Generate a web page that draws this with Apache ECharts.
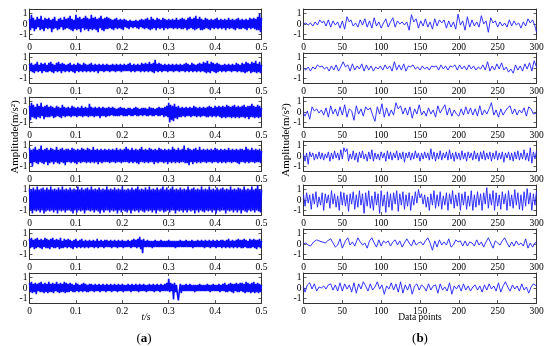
<!DOCTYPE html>
<html><head><meta charset="utf-8">
<script src="https://cdn.jsdelivr.net/npm/echarts@6/dist/echarts.min.js"></script>
<style>html,body{margin:0;padding:0;background:#fff}#c{width:550px;height:346px}</style>
</head><body><div id="c"></div>
<script>
// Tick labels
var xTicksA = [0, 0.1, 0.2, 0.3, 0.4, 0.5];
var xTicksB = [0, 50, 100, 150, 200, 250, 300];
var yTicks = [-1, 0, 1];
var tMax = 0.5, nMax = 300;

// (a) time signals, 0 .. 0.5 s, evenly sampled (values in m/s^2)
var sigA1 = [.5,-.6,.9,-.4,.6,-.7,.4,-.5,.7,-.3,.5,-.6,.8,-.5,.4,-.7,.6,-.4,.5,-.5,
.6,-.4,.4,-.8,.5,-.5,.7,-.4,.3,-.6,.5,-.5,.6,-.3,.4,-.6,.7,-.5,.5,-.4,
.6,-.5,.8,-.6,.5,-.7,.4,-.5,.9,-.6,.6,-.5,.7,-.8,.5,-.4,.6,-.6,.8,-.5,
.6,-.7,.5,-.5,.9,-.6,.6,-.5,.7,-.6,.5,-.8,.6,-.4,.8,-.6,.5,-.7,.6,-.5,
.7,-.5,.6,-.4,.5,-.5,.4,-.6,.5,-.4,.6,-.5,.4,-.4,.5,-.5,.4,-.6,.5,-.3,
.4,-.4,.3,-.5,.4,-.3,.3,-.4,.3,-.3,.4,-.4,.3,-.5,.4,-.3,.5,-.4,.4,-.5,
.5,-.4,.6,-.5,.4,-.6,.7,-.5,.5,-.4,.4,-.6,.6,-.4,.5,-.5,.4,-.4,.6,-.6,
.5,-.4,.4,-.5,.5,-.4,.4,-.4,.5,-.5,.4,-.4,.6,-.5,.4,-.4,.5,-.5,.6,-.5,
.5,-.4,.4,-.6,.6,-.5,.7,-.4,.5,-.5,.6,-.6,.8,-.5,.5,-.4,.7,-.6,.5,-.6,
.4,-.5,.6,-.4,.5,-.5,.4,-.6,.5,-.4,.4,-.5,.5,-.4,.6,-.5,.4,-.4,.5,-.5,
.4,-.4,.5,-.6,.4,-.4,.6,-.5,.4,-.4,.5,-.5,.4,-.6,.5,-.4,.6,-.5,.4,-.5,
.5,-.4,.4,-.5,.5,-.6,.4,-.4,.6,-.5,.5,-.4,.6,-.5,.5,-.6,.7,-.6,1,-.8,.6];
var sigA2 = [.4,-.3,.5,-.4,.3,-.5,.4,-.3,.6,-.4,.3,-.3,.5,-.5,.4,-.3,.5,-.4,.3,-.4,
.5,-.3,.6,-.4,.4,-.5,.3,-.3,.5,-.4,.6,-.3,.4,-.5,.5,-.3,.4,-.4,.3,-.3,
.4,-.4,.5,-.3,.3,-.4,.4,-.5,.3,-.3,.5,-.4,.4,-.3,.3,-.4,.5,-.3,.4,-.4,
.3,-.3,.4,-.4,.5,-.3,.3,-.4,.4,-.3,.3,-.5,.4,-.3,.3,-.3,.4,-.4,.3,-.3,
.4,-.3,.3,-.4,.3,-.3,.4,-.3,.3,-.4,.4,-.3,.3,-.3,.4,-.4,.3,-.3,.4,-.3,
.3,-.3,.4,-.3,.5,-.4,.3,-.3,.4,-.4,.3,-.3,.4,-.3,.3,-.4,.5,-.3,.4,-.4,
.5,-.3,.4,-.4,.6,-.3,.4,-.4,.5,-.5,.8,-.3,.4,-.4,.5,-.3,.4,-.4,.3,-.3,
.4,-.3,.3,-.4,.4,-.3,.3,-.3,.4,-.4,.3,-.3,.4,-.3,.3,-.4,.4,-.3,.3,-.3,
.4,-.4,.5,-.3,.4,-.4,.3,-.3,.5,-.4,.4,-.3,.3,-.4,.4,-.3,.5,-.4,.4,-.3,
.6,-.4,.5,-.5,.7,-.4,.4,-.5,.6,-.3,.5,-.4,.4,-.5,.5,-.4,.4,-.3,.3,-.4,
.3,-.3,.4,-.4,.3,-.3,.4,-.3,.3,-.4,.4,-.3,.3,-.3,.5,-.4,.4,-.3,.3,-.4,
.5,-.4,.4,-.5,.6,-.4,.5,-.3,.4,-.5,.6,-.4,.5,-.4,.7,-.5,.4,-.4,.6,-.5,.3];
var sigA3 = [.6,-.8,.9,-.5,.7,-.6,.5,-.7,.8,-.5,.6,-.6,.9,-.4,.5,-.7,.6,-.5,.7,-.5,
.5,-.5,.6,-.4,.5,-.6,.4,-.5,.6,-.4,.5,-.5,.4,-.6,.7,-.4,.5,-.5,.4,-.4,
.5,-.4,.4,-.5,.6,-.4,.5,-.4,.4,-.5,.5,-.4,.4,-.4,.6,-.5,.4,-.4,.5,-.4,
.4,-.5,.8,-.4,.5,-.4,.4,-.5,.5,-.4,.4,-.4,.5,-.6,.4,-.4,.5,-.4,.4,-.5,
.4,-.4,.5,-.4,.4,-.3,.5,-.4,.4,-.4,.3,-.4,.4,-.4,.5,-.3,.4,-.4,.4,-.4,
.3,-.4,.4,-.3,.4,-.4,.3,-.4,.4,-.3,.5,-.4,.4,-.4,.3,-.3,.4,-.4,.4,-.3,
.4,-.4,.3,-.4,.5,-.3,.4,-.4,.4,-.4,.3,-.3,.4,-.4,.5,-.4,.4,-.3,.4,-.5,
.5,-.4,.6,-.5,.9,-1,.7,-.8,.6,-.9,.8,-.6,.5,-.7,.6,-.5,.4,-.5,.5,-.4,
.4,-.5,.5,-.4,.4,-.4,.5,-.5,.4,-.4,.6,-.4,.5,-.5,.4,-.4,.5,-.5,.4,-.4,
.5,-.4,.4,-.5,.5,-.5,.6,-.4,.5,-.5,.4,-.4,.6,-.5,.5,-.4,.6,-.5,.5,-.6,
.6,-.5,.5,-.6,.7,-.5,.6,-.5,.5,-.6,.6,-.5,.7,-.6,.5,-.5,.6,-.6,.5,-.5,
.6,-.5,.7,-.6,.5,-.5,.6,-.7,.6,-.5,.8,-.5,.6,-.6,.5,-.5,.7,-.6,.6,-.5,.4];
var sigA4 = [.8,-.7,.6,-1,.7,-.6,.9,-.7,.6,-.8,.7,-.6,1,-.7,.6,-.8,.7,-.6,.8,-.9,
.6,-.7,.8,-.6,.7,-.8,.6,-.6,.9,-.7,.6,-.8,.7,-.6,.8,-.7,.6,-.9,.7,-.6,
.7,-.6,.6,-.7,.8,-.6,.7,-.7,.6,-.8,.7,-.6,.6,-.7,.8,-.6,.7,-.6,.6,-.7,
.8,-.6,.7,-.7,.6,-.6,.9,-.7,.6,-.6,.7,-.8,.6,-.6,.7,-.7,.6,-.6,.7,-.6,
.6,-.6,.7,-.7,.6,-.6,.7,-.6,.6,-.7,.8,-.6,.6,-.6,.7,-.7,.6,-.6,.7,-.6,
.9,-.6,.7,-.7,.6,-.6,.8,-.7,.6,-.6,.7,-.7,.6,-.8,.7,-.6,.9,-.6,.6,-.7,
.7,-.6,.6,-.7,.8,-.6,.7,-.6,.6,-.8,.7,-.6,.6,-.7,.8,-.6,.7,-.6,.6,-.7,
.7,-.6,.6,-.8,.7,-.6,.6,-.7,.9,-.6,.7,-.7,.6,-.6,.8,-.7,.6,-.6,.7,-.6,
1,-.7,.6,-.7,.8,-.9,.7,-.6,.6,-.8,.7,-.6,.8,-.7,.6,-.6,.9,-.7,.6,-.6,
.7,-.6,.6,-.7,.7,-.6,.6,-.6,.7,-.7,.6,-.6,.8,-.6,.7,-.7,.6,-.6,.7,-.7,
.6,-.6,.7,-.7,.6,-.6,.8,-.6,.6,-.7,.7,-.6,.6,-.6,.7,-.7,.6,-.8,.7,-.6,
.7,-.6,.6,-.7,.9,-.6,.7,-.7,.6,-.6,.8,-.6,.6,-.7,.7,-.6,.6,-.6,.7,-.7,.5];
var sigA5 = [1.1,-1,1,-1.3,1.2,-1,1,-1.1,1.3,-1,1,-1.2,1.1,-1,1.2,-1.3,1,-1.1,1.2,-1,
1,-1.1,1.3,-1,1,-1.2,1.1,-1,1,-1.3,1.2,-1,1,-1.1,1.3,-1,1,-1.2,1.1,-1,
1,-1,1.2,-1.1,1,-1.3,1.1,-1,1,-1.2,1.3,-1,1,-1.1,1.2,-1,1,-1.3,1.1,-1,
1.2,-1,1,-1.1,1.3,-1,1,-1.2,1.1,-1,1,-1.1,1.2,-1.3,1,-1,1.1,-1.2,1,-1,
1.3,-1,1,-1.2,1.1,-1,1,-1.1,1.2,-1,1,-1.3,1.1,-1,1,-1.2,1.3,-1,1,-1.1,
1,-1.2,1.1,-1,1,-1.3,1.2,-1,1,-1.1,1.1,-1,1.3,-1.2,1,-1,1.1,-1.1,1,-1.2,
1.2,-1,1,-1.1,1.3,-1,1,-1.2,1.1,-1,1,-1.3,1.2,-1,1,-1.1,1.1,-1,1.3,-1.2,
1,-1.1,1.2,-1,1,-1.2,1.1,-1,1.3,-1,1,-1.3,1.1,-1,1,-1.1,1.2,-1,1,-1.2,
1.1,-1,1,-1.2,1.3,-1,1,-1.1,1.1,-1,1.2,-1.3,1,-1,1.1,-1.2,1,-1,1.3,-1.1,
1,-1.2,1.1,-1,1,-1.1,1.3,-1,1,-1.2,1.1,-1,1,-1.3,1.2,-1,1,-1.1,1.1,-1,
1.2,-1,1,-1.3,1.1,-1,1,-1.1,1.3,-1,1,-1.2,1.1,-1,1,-1.2,1.2,-1,1.1,-1.3,
1,-1,1.3,-1.1,1,-1.2,1.1,-1,1,-1.1,1.3,-1,1,-1.2,1.1,-1,1.4,-1.1,1,-1.2,1];
var sigA6 = [.5,-.4,.6,-.3,.4,-.5,.5,-.4,.6,-.3,.4,-.4,.5,-.5,.4,-.3,.6,-.4,.5,-.4,
.4,-.5,.5,-.3,.6,-.4,.4,-.4,.5,-.3,.4,-.5,.6,-.4,.3,-.4,.5,-.3,.4,-.4,
.5,-.3,.4,-.4,.3,-.5,.4,-.3,.5,-.4,.3,-.3,.4,-.4,.5,-.3,.3,-.4,.4,-.3,
.3,-.4,.4,-.3,.3,-.3,.4,-.4,.3,-.3,.5,-.4,.3,-.3,.4,-.3,.3,-.4,.4,-.3,
.4,-.3,.3,-.3,.4,-.4,.3,-.3,.4,-.3,.3,-.4,.4,-.3,.3,-.3,.4,-.4,.3,-.3,
.3,-.3,.4,-.3,.3,-.4,.4,-.3,.5,-.3,.4,-.4,.5,-.3,.7,-.5,.4,-.9,.5,-.3,
.3,-.3,.4,-.3,.3,-.3,.3,-.4,.3,-.3,.4,-.3,.3,-.3,.3,-.3,.4,-.3,.3,-.3,
.3,-.3,.3,-.3,.4,-.3,.3,-.3,.3,-.3,.3,-.4,.3,-.3,.3,-.3,.4,-.3,.3,-.3,
.3,-.3,.4,-.3,.3,-.3,.3,-.3,.4,-.4,.3,-.3,.3,-.3,.4,-.3,.3,-.3,.4,-.3,
.3,-.4,.4,-.3,.3,-.3,.4,-.4,.3,-.3,.4,-.3,.3,-.4,.4,-.3,.3,-.3,.4,-.4,
.4,-.3,.3,-.4,.4,-.3,.5,-.4,.3,-.3,.4,-.4,.3,-.3,.4,-.4,.5,-.3,.4,-.4,
.4,-.4,.5,-.3,.4,-.4,.3,-.4,.5,-.4,.4,-.3,.5,-.4,.4,-.5,.4,-.3,.5,-.4,.3];
var sigA7 = [.5,-.4,.6,-.5,.4,-.4,.5,-.6,.4,-.3,.5,-.4,.6,-.4,.4,-.5,.5,-.4,.4,-.5,
.6,-.4,.4,-.4,.5,-.5,.4,-.3,.6,-.4,.4,-.5,.5,-.4,.4,-.4,.6,-.5,.5,-.4,
.4,-.4,.5,-.3,.4,-.4,.3,-.4,.5,-.3,.4,-.4,.3,-.3,.4,-.4,.5,-.3,.4,-.4,
.3,-.4,.4,-.3,.4,-.3,.3,-.4,.4,-.3,.3,-.3,.4,-.4,.3,-.3,.4,-.3,.3,-.4,
.4,-.3,.3,-.3,.4,-.4,.3,-.3,.4,-.3,.3,-.4,.4,-.3,.3,-.3,.4,-.4,.3,-.3,
.3,-.3,.4,-.3,.3,-.4,.4,-.3,.3,-.3,.4,-.3,.3,-.4,.4,-.3,.3,-.3,.4,-.3,
.3,-.4,.3,-.3,.4,-.3,.3,-.3,.4,-.4,.3,-.3,.4,-.3,.3,-.4,.4,-.3,.3,-.3,
.4,-.3,.5,-.3,.9,-.4,.5,-.3,.4,-1.1,.5,-.4,.3,-.6,-1.2,-.3,.4,-.5,.3,-.3,
.3,-.3,.4,-.3,.3,-.3,.4,-.3,.3,-.3,.3,-.4,.3,-.3,.3,-.3,.4,-.3,.3,-.3,
.3,-.3,.3,-.3,.4,-.3,.3,-.4,.3,-.3,.4,-.3,.3,-.3,.3,-.3,.4,-.4,.3,-.3,
.4,-.3,.5,-.4,.3,-.4,.4,-.3,.5,-.4,.4,-.5,.4,-.3,.5,-.4,.4,-.4,.5,-.3,
.5,-.4,.4,-.5,.6,-.4,.5,-.4,.4,-.5,.5,-.4,.6,-.5,.4,-.4,.5,-.5,.4,-.4,.3];

// (b) first 300 data points, [point index, amplitude]
var sigB1 = [[0,0],[3,.1],[6,-.1],[9,.1],[12,-.2],[15,.2],[18,-.1],[21,.4],[24,.1],[26,.3],[29,-.2],[32,.4],[35,-.3],[38,.3],[41,-.1],[44,.2],[47,-.4],[50,.3],[53,-.5],[56,.7],[59,.2],[61,.4],[64,-.2],[67,.1],[70,-.3],[73,.4],[76,-.1],[79,.5],[82,-.3],[85,.3],[88,-.4],[91,.6],[94,-.2],[97,.2],[100,-.4],[103,.1],[106,.5],[109,-.3],[112,.2],[115,.6],[118,-.3],[121,.3],[124,0],[127,.2],[130,-.1],[133,.2],[136,-.6],[139,.9],[142,.2],[145,.5],[148,-.4],[151,.3],[154,-.2],[157,.5],[160,-.3],[163,.2],[166,-.5],[169,.5],[172,-.2],[175,.4],[178,.1],[181,.4],[184,-.4],[187,.3],[190,-.3],[193,.2],[196,-.5],[199,.95],[202,-.1],[205,.3],[208,-.6],[211,.7],[214,-.3],[217,.4],[220,-.2],[223,.2],[226,-.3],[229,.8],[232,0],[235,.3],[238,-.8],[241,.6],[244,.1],[247,.3],[250,-.3],[253,.2],[256,-.2],[259,.1],[262,-.3],[265,.4],[268,-.2],[271,.3],[274,-.1],[277,.1],[280,-.4],[283,.2],[286,-.2],[289,.5],[292,.1],[295,.4],[298,-.2],[300,-.8]];
var sigB2 = [[0,0],[3,-.2],[6,.1],[9,-.3],[12,.1],[15,-.1],[18,.3],[21,.1],[24,.2],[27,-.1],[30,.1],[33,-.3],[36,.2],[39,-.2],[42,.3],[45,-.3],[48,.1],[51,.6],[54,.1],[57,.3],[60,-.3],[63,.4],[66,-.2],[69,.2],[72,-.1],[75,.4],[78,-.3],[81,.3],[84,-.2],[87,.2],[90,-.3],[93,.1],[96,-.1],[99,.2],[102,-.2],[105,.3],[108,-.1],[111,.2],[114,-.3],[117,.6],[120,-.2],[123,.3],[126,-.2],[129,.4],[132,-.3],[135,.2],[138,.1],[141,.3],[144,-.1],[147,.1],[150,-.2],[153,.2],[156,-.1],[159,.1],[162,-.2],[165,.2],[168,.1],[171,.2],[174,-.2],[177,.3],[180,-.1],[183,.2],[186,-.2],[189,.2],[192,.1],[195,.3],[198,-.2],[201,.3],[204,-.1],[207,.2],[210,-.2],[213,.3],[216,-.1],[219,.2],[222,-.2],[225,.1],[228,-.1],[231,.3],[234,-.2],[237,.6],[240,-.3],[243,.2],[246,-.2],[249,.4],[252,-.1],[255,.5],[258,-.2],[261,.1],[264,-.4],[267,-.1],[270,-.5],[273,.3],[276,-.2],[279,.2],[282,-.3],[285,.4],[288,-.1],[291,.5],[294,-.3],[297,.7],[300,.1]];
var sigB3 = [[0,-.1],[2,-.4],[5,.1],[8,-.7],[11,.5],[14,.1],[17,.3],[20,-.1],[23,.2],[26,-.3],[29,.4],[32,-.5],[35,.6],[38,-.2],[41,.3],[44,-.4],[47,.5],[50,-.3],[53,.7],[56,-.5],[59,.3],[62,.1],[65,-.8],[68,.6],[71,-.2],[74,.3],[77,-.4],[80,.5],[83,.2],[86,.4],[89,-.3],[92,-.9],[95,.5],[98,-.2],[101,.8],[104,-.5],[107,.4],[110,-.4],[113,.2],[116,-.3],[119,.9],[122,.3],[125,.6],[128,-.2],[131,.4],[134,-.3],[137,.5],[140,-.6],[143,.3],[146,-.2],[149,.7],[152,-.3],[155,.1],[158,-.4],[161,.4],[164,-.2],[167,.2],[170,-.5],[173,.6],[176,-.1],[179,.3],[182,.7],[185,-.3],[188,.4],[191,-.4],[194,.2],[197,-.2],[200,-.4],[203,.3],[206,-.3],[209,.5],[212,-.2],[215,.4],[218,-.3],[221,.3],[224,-.4],[227,.6],[230,-.3],[233,.2],[236,-.2],[239,.3],[242,.9],[245,-.3],[248,.2],[251,-.5],[254,.3],[257,-.3],[260,.1],[263,.4],[266,.6],[269,-.2],[272,.3],[275,-.3],[278,.2],[281,-.1],[284,.4],[287,-.4],[290,.5],[293,.3],[296,-.2],[300,-.1]];
var sigB4 = [[0,.2],[2,-.5],[4,.3],[6,-.8],[8,.4],[10,-.1],[12,.3],[14,-.4],[16,.2],[18,-.3],[20,.4],[22,-.3],[24,.3],[26,-.4],[28,.2],[30,-.2],[32,.4],[34,-.5],[36,.3],[38,-.3],[40,.5],[42,-.2],[44,.3],[46,-.4],[48,.6],[50,-.3],[52,.8],[54,.4],[56,.7],[58,-.5],[60,.2],[62,-.3],[64,.5],[66,-.4],[68,.3],[70,-.6],[72,.4],[74,-.2],[76,.5],[78,-.3],[80,.2],[82,-.5],[84,.4],[86,-.3],[88,.6],[90,-.5],[92,.3],[94,-.3],[96,.2],[98,-.4],[100,.4],[102,-.2],[104,.3],[106,-.5],[108,.5],[110,-.3],[112,.4],[114,-.4],[116,.3],[118,-.2],[120,.5],[122,-.4],[124,.3],[126,-.3],[128,.4],[130,-.6],[132,.3],[134,-.2],[136,.4],[138,-.4],[140,.3],[142,-.3],[144,.5],[146,-.2],[148,.3],[150,-.5],[152,.3],[154,-.3],[156,.4],[158,-.2],[160,.3],[162,-.4],[164,.7],[166,-.3],[168,.4],[170,-.5],[172,.3],[174,-.3],[176,.5],[178,-.4],[180,.3],[182,-.2],[184,.4],[186,-.4],[188,.6],[190,-.3],[192,.3],[194,-.5],[196,.4],[198,-.3],[200,.3],[202,-.4],[204,.5],[206,-.3],[208,.3],[210,-.5],[212,.4],[214,-.2],[216,.3],[218,-.4],[220,.5],[222,-.3],[224,.3],[226,-.5],[228,.4],[230,-.3],[232,.5],[234,-.4],[236,.3],[238,-.3],[240,.4],[242,-.5],[244,.3],[246,-.3],[248,.5],[250,-.4],[252,.3],[254,-.3],[256,.4],[258,-.6],[260,.3],[262,-.2],[264,.4],[266,-.4],[268,.3],[270,-.5],[272,.4],[274,-.3],[276,.5],[278,-.4],[280,.3],[282,-.3],[284,.6],[286,-.4],[288,.3],[290,-.5],[292,.8],[294,-.7],[296,.4],[298,-.3],[300,.5]];
var sigB5 = [[0,.5],[2,-.6],[4,.7],[6,-.3],[8,.5],[10,-.9],[12,.6],[14,-.4],[16,.8],[18,-.7],[20,.3],[22,-.5],[24,.7],[26,-1],[28,.6],[30,-.3],[32,.5],[34,-.8],[36,.9],[38,-.4],[40,.6],[42,-.7],[44,.4],[46,-1],[48,.8],[50,-.5],[52,.7],[54,-.6],[56,.5],[58,-1.1],[60,.6],[62,-.4],[64,.8],[66,-.9],[68,.5],[70,-.7],[72,.9],[74,-.5],[76,.6],[78,-1.3],[80,.7],[82,-.6],[84,.9],[86,-.8],[88,.4],[90,-1],[92,.8],[94,-.5],[96,.6],[98,-1.3],[100,.9],[102,-.6],[104,.5],[106,-1.2],[108,.8],[110,-.7],[112,.6],[114,-1],[116,.7],[118,-.4],[120,.9],[122,-1.1],[124,.6],[126,-.5],[128,.8],[130,-.9],[132,.5],[134,-.6],[136,.7],[138,-1],[140,.4],[142,-.5],[144,.8],[146,-.3],[148,1],[150,.2],[152,.6],[154,-.4],[156,.5],[158,-.7],[160,.3],[162,-1],[164,.6],[166,-.5],[168,.9],[170,-.8],[172,.5],[174,-.6],[176,.8],[178,-.9],[180,.4],[182,-.5],[184,.7],[186,-1],[188,.6],[190,-.4],[192,.9],[194,-.8],[196,.5],[198,-.6],[200,.7],[202,-1],[204,.6],[206,-.5],[208,.8],[210,-.9],[212,.4],[214,-.6],[216,.9],[218,-1],[220,.5],[222,-.7],[224,.8],[226,-.5],[228,.6],[230,-1],[232,.7],[234,-.4],[236,1.2],[238,-.8],[240,.6],[242,-.5],[244,.9],[246,-1],[248,.7],[250,-.6],[252,.5],[254,-.9],[256,.8],[258,-.4],[260,.6],[262,-1],[264,.9],[266,-.6],[268,.5],[270,-.8],[272,1],[274,-.5],[276,.7],[278,-.9],[280,.5],[282,-1],[284,.8],[286,-.6],[288,1.1],[290,-.4],[292,.7],[294,-1],[296,.6],[298,-.5],[300,.9]];
var sigB6 = [[0,0],[3,.1],[6,-.1],[9,-.2],[13,.2],[17,.4],[20,.3],[24,.2],[28,.1],[31,.3],[35,.5],[38,.1],[41,-.3],[44,-.1],[47,.5],[50,-.4],[54,.3],[57,.6],[60,-.1],[63,.2],[66,-.2],[70,.6],[73,.2],[76,-.1],[79,.1],[82,-.4],[85,.3],[88,.6],[91,.1],[94,-.3],[97,.4],[100,-.2],[103,.3],[106,.1],[109,.3],[112,-.2],[115,.2],[118,.4],[121,-.1],[124,.3],[127,-.3],[130,.1],[133,.5],[136,.1],[139,-.2],[142,.4],[145,-.1],[148,.1],[151,.2],[154,-.1],[157,.3],[160,.6],[163,.1],[166,-.6],[169,.3],[172,-.3],[175,.4],[178,-.1],[181,.2],[184,-.1],[187,.5],[190,-.3],[193,-.1],[196,.4],[199,.2],[202,.3],[205,-.2],[208,.3],[211,-.2],[214,.2],[217,.1],[220,-.2],[223,.4],[226,-.1],[229,.2],[232,-.3],[235,.2],[238,.6],[241,.1],[244,-.4],[247,.3],[250,.1],[253,-.1],[256,.3],[259,.6],[262,.1],[265,-.3],[268,.2],[271,-.2],[274,.3],[277,-.1],[280,.1],[283,-.2],[286,.5],[289,-.4],[292,.1],[295,-.3],[298,.1],[300,.2]];
var sigB7 = [[0,.1],[2,-.4],[5,.3],[8,.5],[11,-.1],[14,.4],[17,-.3],[20,.1],[23,0],[26,.2],[29,-.1],[32,.3],[35,.4],[38,-.2],[41,.3],[44,-.3],[47,.5],[50,-.3],[53,.4],[56,-.1],[59,.3],[62,-.4],[65,.5],[68,-.5],[71,.4],[74,-.1],[77,.6],[80,.2],[83,-.3],[86,.4],[89,-.2],[92,.1],[95,.6],[98,-.1],[101,.3],[104,-.6],[107,.2],[110,-.1],[113,.5],[116,-.2],[119,.4],[122,-.4],[125,.6],[128,-.5],[131,.3],[134,-.2],[137,.4],[140,-.6],[143,.2],[146,.4],[149,-.2],[152,.3],[155,.1],[158,-.3],[161,.4],[164,-.2],[167,.2],[170,.3],[173,-.5],[176,.4],[179,-.2],[182,.1],[185,-.3],[188,.5],[191,-.6],[194,.2],[197,-.1],[200,.3],[203,-.3],[206,.4],[209,-.2],[212,.2],[215,-.3],[218,.1],[221,.3],[224,-.2],[227,.2],[230,-.4],[233,.3],[236,-.2],[239,.4],[242,-.1],[245,.2],[248,-.3],[251,.5],[254,-.4],[257,.2],[260,.6],[263,.1],[266,-.3],[269,.3],[272,-.1],[275,.2],[278,-.3],[281,.4],[284,-.2],[287,.1],[290,-.5],[293,.1],[296,.4],[300,.2]];

var leftSigs = [sigA1, sigA2, sigA3, sigA4, sigA5, sigA6, sigA7];
var rightSigs = [sigB1, sigB2, sigB3, sigB4, sigB5, sigB6, sigB7];

var chart = echarts.init(document.getElementById('c'), null, {renderer: 'canvas'});
var SERIF = "'Liberation Serif', 'Times New Roman', serif";
var axisCol = '#333';
var grids = [], xAxes = [], yAxes = [], series = [];

function addPanel(left, width, top, isLeft, data) {
  var g = grids.length;
  grids.push({left: left, top: top, width: width, height: 30, show: false, containLabel: false});
  var xBase = {
    gridIndex: g, type: 'value', min: 0,
    max: isLeft ? tMax : nMax,
    interval: isLeft ? xTicksA[1] : xTicksB[1],
    splitLine: {show: false},
    axisLine: {show: true, onZero: false, lineStyle: {color: axisCol, width: 1}},
    axisTick: {show: true, inside: true, length: 3, lineStyle: {color: axisCol, width: 0.8}}
  };
  xAxes.push(Object.assign({}, xBase, {position: 'bottom',
    axisLabel: {show: true, margin: 3, fontFamily: SERIF, fontSize: 9.5, color: '#000'}}));
  xAxes.push(Object.assign({}, xBase, {position: 'top', axisLabel: {show: false}}));
  var yBase = {
    gridIndex: g, type: 'value', min: -1.45, max: 1.45,
    splitLine: {show: false},
    axisLine: {show: true, onZero: false, lineStyle: {color: axisCol, width: 1}},
    axisTick: {show: true, inside: true, length: 3, customValues: yTicks, lineStyle: {color: axisCol, width: 0.8}}
  };
  yAxes.push(Object.assign({}, yBase, {position: 'left',
    axisLabel: {show: true, margin: 2, customValues: yTicks, fontFamily: SERIF, fontSize: 9.5, color: '#000'}}));
  yAxes.push(Object.assign({}, yBase, {position: 'right', axisLabel: {show: false}}));
  var pts = isLeft ? data.map(function (v, i) { return [i * tMax / (data.length - 1), v]; }) : data;
  series.push({
    type: 'line', xAxisIndex: 2 * g, yAxisIndex: 2 * g, data: pts, z: 1,
    showSymbol: false, symbol: 'none', silent: true, clip: true, animation: false,
    lineStyle: {color: isLeft ? '#0a0aff' : '#1f1fff', width: isLeft ? 1.6 : 0.9, join: 'bevel'}
  });
}

for (var i = 0; i < 7; i++) {
  addPanel(29.5, 232, 9 + 44 * i, true, leftSigs[i]);
}
for (var j = 0; j < 7; j++) {
  addPanel(303.5, 233, 9 + 44 * j, false, rightSigs[j]);
}

var txt = function (s, x, y, font, rot, rich) {
  var o = {type: 'text', x: x, y: y, rotation: rot || 0, silent: true,
    style: {text: s, font: font, fill: '#000', align: 'center', verticalAlign: 'middle'}};
  if (rich) o.style.rich = rich;
  return o;
};

chart.setOption({
  animation: false,
  backgroundColor: '#fff',
  grid: grids, xAxis: xAxes, yAxis: yAxes, series: series,
  graphic: [
    txt('Amplitude(m/s²)', 15, 137, '11px ' + SERIF, Math.PI / 2),
    txt('Amplitude(m/s²)', 286, 140, '11px ' + SERIF, Math.PI / 2),
    txt('t/s', 146, 317, 'italic 9.5px ' + SERIF),
    txt('Data points', 420, 317, '9.5px ' + SERIF),
    txt('({b|a})', 144, 339, '13px ' + SERIF, 0, {b: {font: 'bold 13px ' + SERIF, fill: '#000'}}),
    txt('({b|b})', 420, 339, '13px ' + SERIF, 0, {b: {font: 'bold 13px ' + SERIF, fill: '#000'}})
  ]
});
</script>
</body></html>
